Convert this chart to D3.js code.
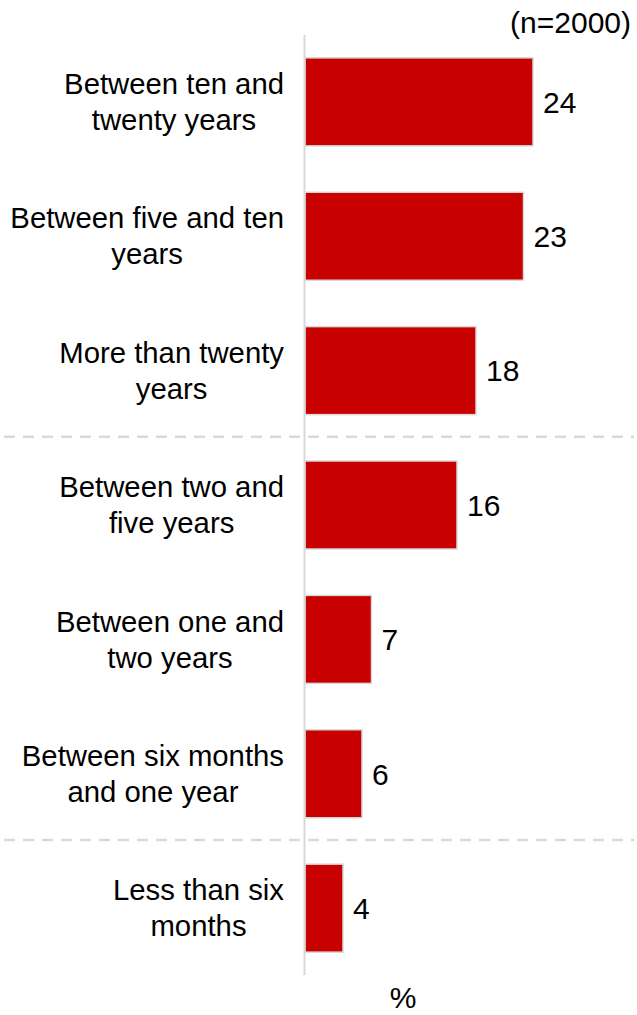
<!DOCTYPE html>
<html>
<head>
<meta charset="utf-8">
<script src="https://cdn.jsdelivr.net/npm/d3@7"></script>
<style>
  html, body { margin: 0; padding: 0; background: #fff; }
  svg { display: block; font-family: "Liberation Sans", Arial, sans-serif; }
</style>
</head>
<body>
<svg id="chart" width="637" height="1015"></svg>
<script>
// Duration categories, each split into the lines shown beside its bar
const categories = [
  ["Between ten and", "twenty years"],
  ["Between five and ten", "years"],
  ["More than twenty", "years"],
  ["Between two and", "five years"],
  ["Between one and", "two years"],
  ["Between six months", "and one year"],
  ["Less than six", "months"]
];
const values = [24, 23, 18, 16, 7, 6, 4];
// Group breaks: a dashed separator is drawn before these category indices
const groupStarts = [3, 6];
const sampleNote = "(n=2000)";
const unitLabel = "%";

const svg = d3.select("#chart");
const axisX = 305;

const keys = categories.map((c, i) => i);

const x = d3.scaleLinear().domain([0, 24]).range([axisX, 533]);
const y = d3.scaleBand().domain(keys).range([35, 975])
  .paddingInner(0.345).paddingOuter(0.17);

const red = "#c80000";
const grey = "#d9d9d9";

// Group separators
groupStarts.forEach(i => {
  const prevBottom = y(i - 1) + y.bandwidth();
  const yy = (prevBottom + y(i)) / 2 - 1;
  svg.append("line")
    .attr("x1", 4).attr("x2", 634)
    .attr("y1", yy).attr("y2", yy)
    .attr("stroke", grey).attr("stroke-width", 2.5)
    .attr("stroke-dasharray", "11,8");
});

// Bars
svg.append("g").selectAll("rect")
  .data(values)
  .join("rect")
  .attr("x", x(0))
  .attr("y", (d, i) => y(i))
  .attr("width", d => x(d) - x(0))
  .attr("height", y.bandwidth())
  .attr("fill", red)
  .attr("stroke", grey)
  .attr("stroke-width", 1.5);

// Category axis line
svg.append("line")
  .attr("x1", axisX - 0.5).attr("x2", axisX - 0.5)
  .attr("y1", 35).attr("y2", 975)
  .attr("stroke", grey).attr("stroke-width", 2);

// Value labels
svg.append("g").selectAll("text")
  .data(values)
  .join("text")
  .attr("x", d => x(d) + 10)
  .attr("y", (d, i) => y(i) + y.bandwidth() / 2)
  .attr("dy", "0.36em")
  .attr("font-size", 30)
  .attr("fill", "#000")
  .text(d => d);

// Category labels: each block is right-aligned to the axis, lines centred within it
const labelRight = 284;
const lineGap = 36;
const labelG = svg.append("g");
categories.forEach((lines, i) => {
  const cy = y(i) + y.bandwidth() / 2;
  const t = labelG.append("text")
    .attr("font-size", 29.3)
    .attr("fill", "#000")
    .attr("text-anchor", "middle");
  const spans = lines.map((ln, k) =>
    t.append("tspan")
      .attr("y", cy - (lines.length - 1) * lineGap / 2 + k * lineGap)
      .attr("dy", "0.35em")
      .text(ln)
  );
  const maxW = d3.max(spans, s => s.node().getComputedTextLength());
  const cx = labelRight - maxW / 2;
  spans.forEach(s => s.attr("x", cx));
});

// Sample size note
svg.append("text")
  .attr("x", 631).attr("y", 33)
  .attr("text-anchor", "end")
  .attr("font-size", 30)
  .attr("fill", "#000")
  .text(sampleNote);

// Unit label under the bars
svg.append("text")
  .attr("x", 403).attr("y", 1008)
  .attr("text-anchor", "middle")
  .attr("font-size", 30)
  .attr("fill", "#000")
  .text(unitLabel);
</script>
</body>
</html>
